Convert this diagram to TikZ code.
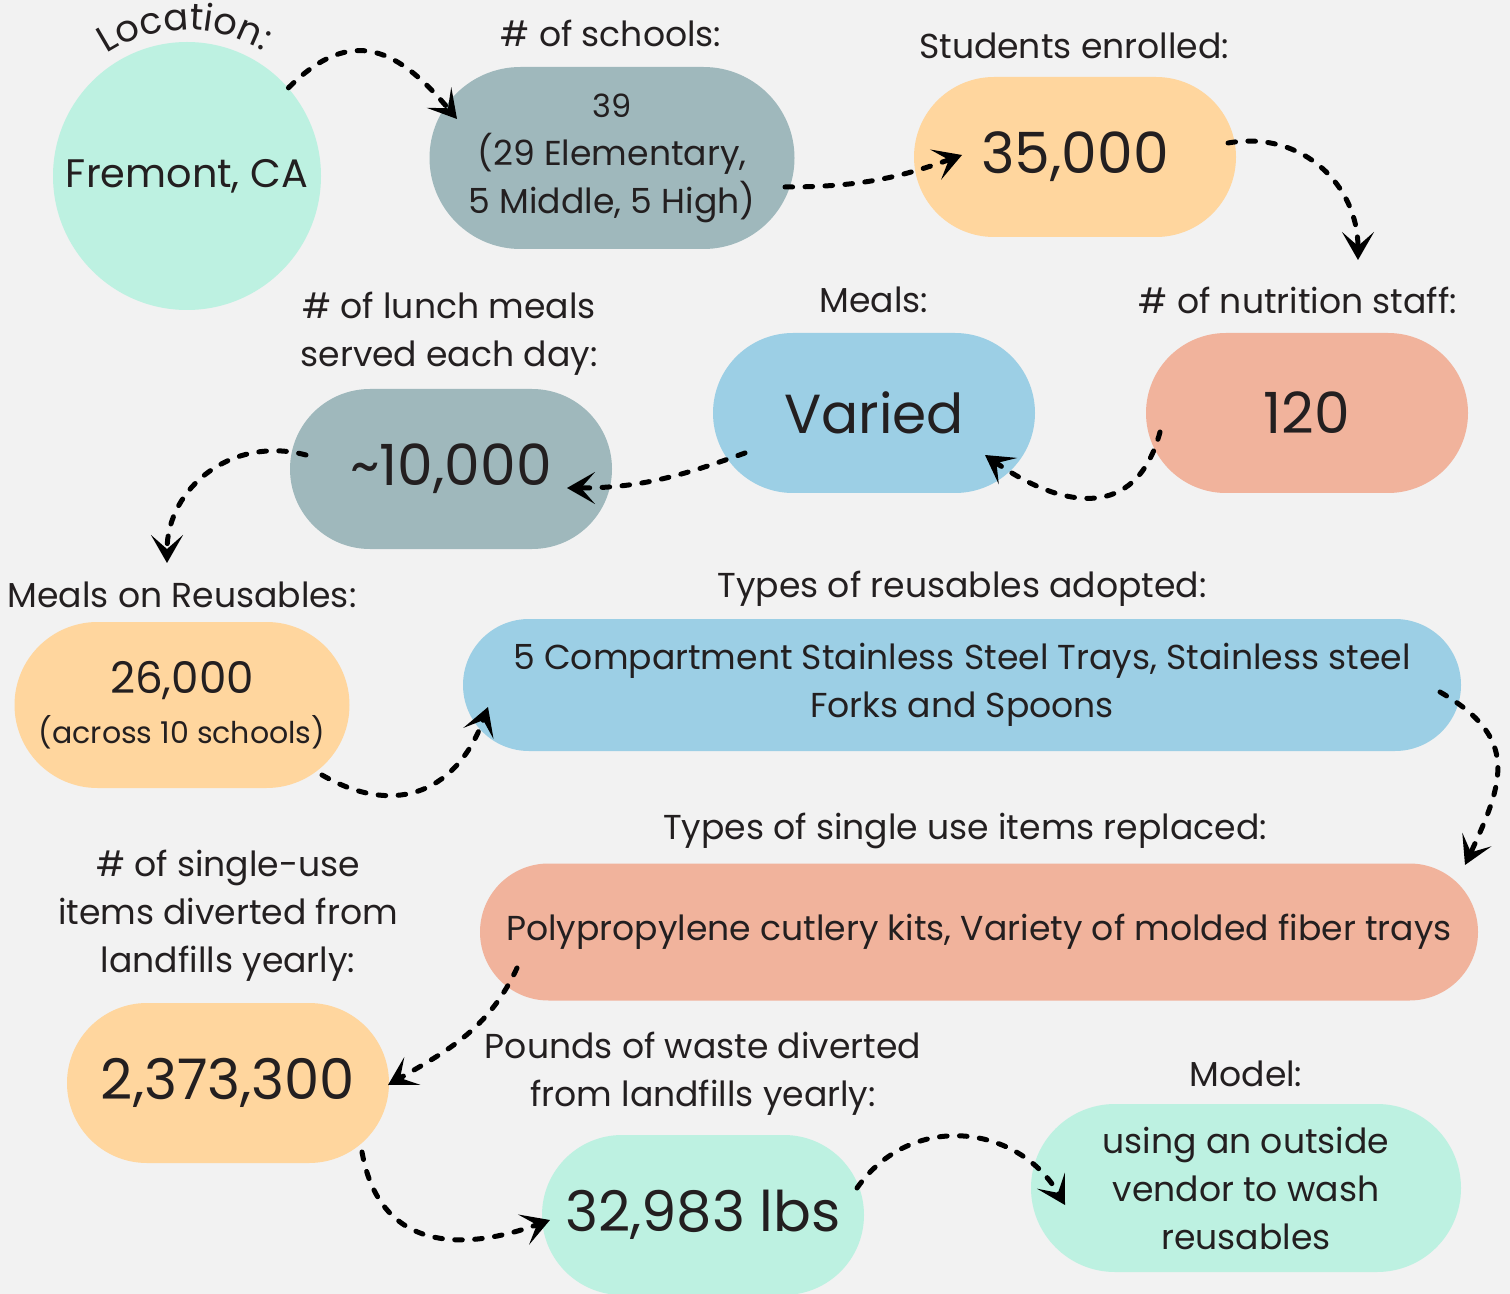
\documentclass[tikz,border=0pt]{standalone}
\usepackage{fontspec}
\setmainfont{Poppins}
\usetikzlibrary{shapes.misc,arrows.meta,decorations.text}
\definecolor{paper}{HTML}{F2F2F2}
\definecolor{ink}{HTML}{231F20}
\definecolor{mint}{HTML}{BDF1E1}
\definecolor{slate}{HTML}{9FB8BC}
\definecolor{peach}{HTML}{FFD69E}
\definecolor{salmon}{HTML}{F1B39C}
\definecolor{sky}{HTML}{9CCFE5}
\begin{document}
\begin{tikzpicture}
  [x=0.5pt,y=0.5pt,
   every node/.style={text=ink,align=center,inner sep=0pt},
   pill/.style={rounded rectangle,minimum width=161pt,minimum height=80pt},
   caption/.style={font=\fontsize{17.3}{24}\selectfont},
   body/.style={font=\fontsize{17.3}{24}\selectfont},
   big/.style={font=\fontsize{28.4}{34}\selectfont},
   flow/.style={-{Stealth[length=14pt,width=16pt,inset=7pt]},line width=2.5pt,
     dash pattern=on 3.8pt off 6.2pt,line cap=round}]
  \useasboundingbox[fill=paper] (0,0) rectangle (1510,-1294);
  % boxes, top row
  \node[circle,fill=mint,minimum size=134pt,font=\fontsize{19.9}{24}\selectfont] (loc) at (187,-176) {Fremont, CA};
  \node[pill,fill=slate,minimum width=182.5pt,minimum height=91pt,body] (schools) at (612,-158)
    {{\fontsize{16}{24}\selectfont 39}\\(29 Elementary,\\5 Middle, 5 High)};
  \node[pill,fill=peach,big] (students) at (1075,-157) {35,000};
  % second row
  \node[pill,fill=salmon,big] (staff) at (1307,-413) {120};
  \node[pill,fill=sky,font=\fontsize{27.5}{34}\selectfont] (meals) at (874,-413) {Varied};
  \node[pill,fill=slate,big] (lunch) at (451,-469) {\textasciitilde10,000};
  % third and fourth rows
  \node[pill,fill=peach,minimum width=167.5pt,minimum height=83pt,font=\fontsize{15}{25}\selectfont] (reuse) at (182,-705)
    {{\fontsize{21.8}{25}\selectfont 26,000}\\(across 10 schools)};
  \node[pill,fill=sky,minimum width=499pt,minimum height=66pt,body] (kinds) at (962,-685)
    {5 Compartment Stainless Steel Trays, Stainless steel\\Forks and Spoons};
  \node[pill,fill=salmon,minimum width=499pt,minimum height=68.5pt,body] (single) at (979,-932)
    {Polypropylene cutlery kits, Variety of molded fiber trays};
  % bottom row
  \node[pill,fill=peach,font=\fontsize{28}{34}\selectfont] (items) at (228,-1083) {2,373,300};
  \node[pill,fill=mint,font=\fontsize{28}{34}\selectfont] (pounds) at (703,-1215) {32,983 lbs};
  \node[pill,fill=mint,minimum width=215pt,minimum height=84pt,body] (model) at (1246,-1188)
    {using an outside\\vendor to wash\\reusables};
  % captions
  \path[decorate,decoration={text along path,text align=center,text color=ink,
      text={|\fontsize{18.5}{22}\selectfont|Location:}}]
    (loc.center) ++(130:73pt) arc[start angle=130,end angle=52,radius=73pt];
  \node[caption] (schoolscap) at (611,-33) {\# of schools:};
  \node[caption] (studentscap) at (1074,-46) {Students enrolled:};
  \node[caption] (staffcap) at (1298,-300) {\# of nutrition staff:};
  \node[caption] (mealscap) at (874,-300) {Meals:};
  \node[caption] (lunchcap) at (449,-334) {\# of lunch meals\\served each day:};
  \node[caption] (reusecap) at (182,-595) {Meals on Reusables:};
  \node[caption] (kindscap) at (962,-589) {Types of reusables adopted:};
  \node[caption] (singlecap) at (965,-831) {Types of single use items replaced:};
  \node[caption] (itemscap) at (228,-916) {\# of single-use\\items diverted from\\landfills yearly:};
  \node[caption] (poundscap) at (703,-1074) {Pounds of waste diverted\\from landfills yearly:};
  \node[caption] (modelcap) at (1246,-1074) {Model:};
  % dashed connectors
  \draw[flow] (loc.41) to[out=45,in=130,looseness=1.35] ([shift={(-155,39)}]schools.center);
  \draw[flow] ([shift={(173,-29)}]schools.center) to[out=0,in=200] ([shift={(-113,2)}]students.center);
  \draw[flow] ([shift={(153,14)}]students.center) to[out=10,in=90,looseness=1.1] ([shift={(60,40)}]staffcap.center);
  \draw[flow] ([shift={(-147,-19)}]staff.center) to[out=-105,in=-35,looseness=1.35] ([shift={(111,-42)}]meals.center);
  \draw[flow] ([shift={(-129,-40)}]meals.center) to[out=200,in=0] ([shift={(116,-19)}]lunch.center);
  \draw[flow] ([shift={(-145,14)}]lunch.center) to[out=165,in=90,looseness=1.1] ([shift={(-15,32)}]reusecap.center);
  \draw[flow] ([shift={(140,-70)}]reuse.center) to[out=-30,in=250,looseness=1.25] ([shift={(-474,-22)}]kinds.center);
  \draw[flow] ([shift={(478,-7)}]kinds.center) to[out=-30,in=65,looseness=1.35] ([shift={(486,67)}]single.center);
  \draw[flow] ([shift={(-462,-36)}]single.center) to[out=245,in=30] ([shift={(160,-2)}]items.center);
  \draw[flow] ([shift={(134,-69)}]items.center) to[out=-80,in=200,looseness=1.25] ([shift={(-153,-5)}]pounds.center);
  \draw[flow] ([shift={(154,27)}]pounds.center) to[out=55,in=120,looseness=1.15] ([shift={(-181,-17)}]model.center);
\end{tikzpicture}
\end{document}
